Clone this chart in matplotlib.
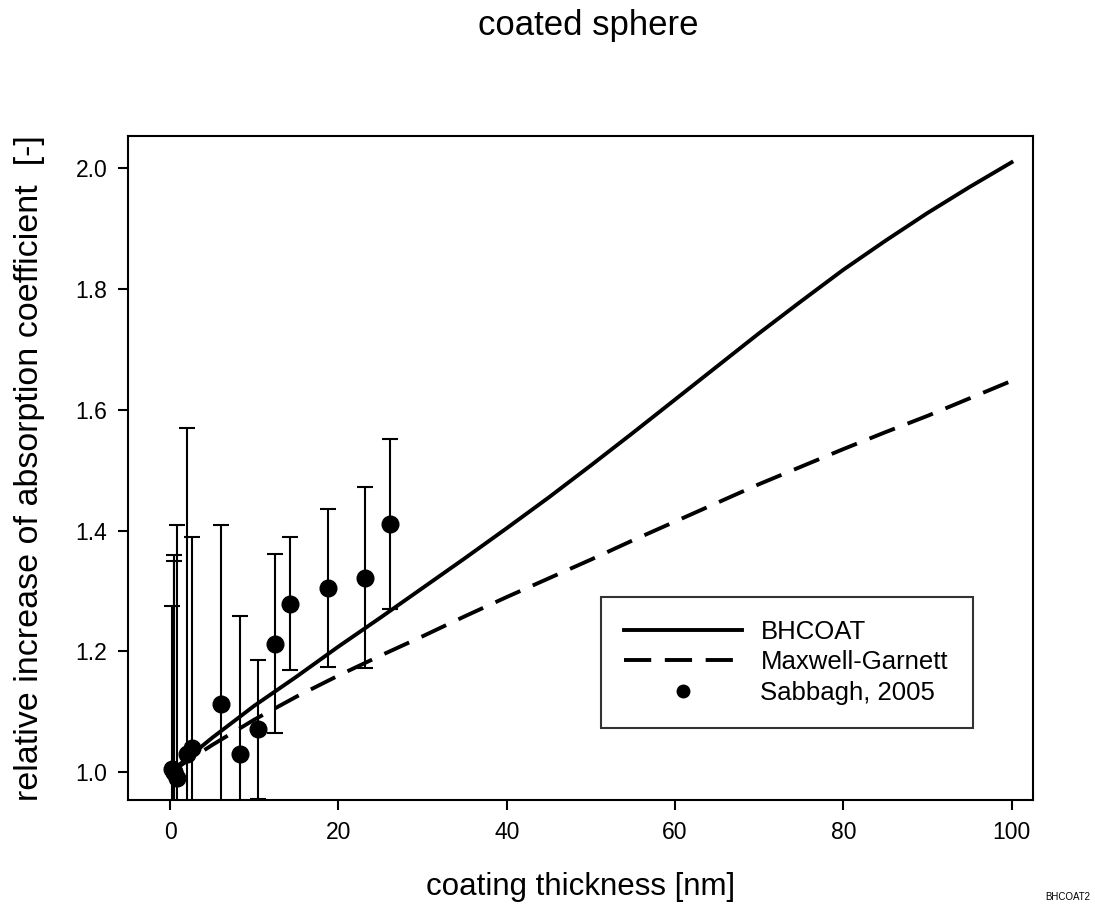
import numpy as np
import matplotlib.pyplot as plt

plt.rcParams['font.family'] = ['Liberation Sans', 'DejaVu Sans']

# BHCOAT calculation (solid line)
bh_x = [0, 5, 10, 15, 20, 25, 30, 35, 40, 45, 50, 55, 60, 65, 70, 75, 80, 85, 90, 95, 100]
bh_y = [1.0, 1.057, 1.110, 1.158, 1.208, 1.256, 1.305, 1.354, 1.404, 1.455, 1.508,
        1.562, 1.617, 1.672, 1.727, 1.780, 1.832, 1.880, 1.926, 1.969, 2.01]

# Maxwell-Garnett (dashed line)
mg_x = [0, 5, 10, 15, 20, 25, 30, 35, 40, 45, 50, 55, 60, 65, 70, 75, 80, 85, 90, 95, 100]
mg_y = [1.0, 1.045, 1.087, 1.125, 1.16, 1.193, 1.225, 1.258, 1.29, 1.321, 1.352,
        1.384, 1.415, 1.446, 1.477, 1.506, 1.535, 1.563, 1.59, 1.619, 1.648]

# Sabbagh, 2005 measurements
sab_x = [0.2, 0.4, 0.5, 0.8, 2.0, 2.6, 6.0, 8.3, 10.4, 12.4, 14.2, 18.7, 23.1, 26.1]
sab_y = [1.005, 1.0, 1.0, 0.99, 1.03, 1.04, 1.113, 1.03, 1.071, 1.213, 1.279, 1.305, 1.322, 1.411]
sab_err = [0.27, 0.35, 0.36, 0.42, 0.54, 0.35, 0.297, 0.228, 0.115, 0.148, 0.11, 0.131, 0.15, 0.141]

fig = plt.figure(figsize=(10.95, 9.09), dpi=100)
ax = fig.add_axes([0.117, 0.12, 0.826, 0.730])

ax.plot(bh_x, bh_y, color='black', lw=2.8, label='BHCOAT')
ax.plot(mg_x, mg_y, color='black', lw=2.8, linestyle=(0, (7, 3.5)), label='Maxwell-Garnett')
ax.errorbar(sab_x, sab_y, yerr=sab_err, fmt='none', ecolor='black', elinewidth=1.5,
            capsize=6, capthick=1.5)
ax.plot(sab_x, sab_y, 'o', color='black', ms=12, label='Sabbagh, 2005')

ax.set_xlim(-5, 102.5)
ax.set_ylim(0.954, 2.053)
ax.set_xticks([0, 20, 40, 60, 80, 100])
ax.set_yticks([1.0, 1.2, 1.4, 1.6, 1.8, 2.0])
ax.set_yticklabels(['1.0', '1.2', '1.4', '1.6', '1.8', '2.0'])
ax.tick_params(direction='out', length=7, width=1.5, labelsize=16.5, pad=8,
               top=False, right=False)
for s in ax.spines.values():
    s.set_linewidth(1.5)

ax.set_xlabel('coating thickness [nm]', fontsize=22.5, labelpad=20)
ax.set_ylabel('relative increase of absorption coefficient  [-]', fontsize=24.5)
ax.yaxis.set_label_coords(-0.092, 0.5)
fig.text(0.537, 0.972, 'coated sphere', fontsize=25, ha='center', va='center')
fig.text(0.975, 0.013, 'BHCOAT2', fontsize=7, ha='center', va='center')

leg = ax.legend(loc='upper left', bbox_to_anchor=(0.523, 0.306, 0.411, 0.0), mode='expand',
                fontsize=18.5, frameon=True, fancybox=False, borderpad=0.9,
                labelspacing=0.25, handlelength=4.6, handletextpad=0.7,
                numpoints=1, borderaxespad=0)
leg.get_frame().set_edgecolor('black')
leg.get_frame().set_linewidth(1.5)
leg.legend_handles[2].set_markersize(9)

fig.savefig('out.png', dpi=100)
